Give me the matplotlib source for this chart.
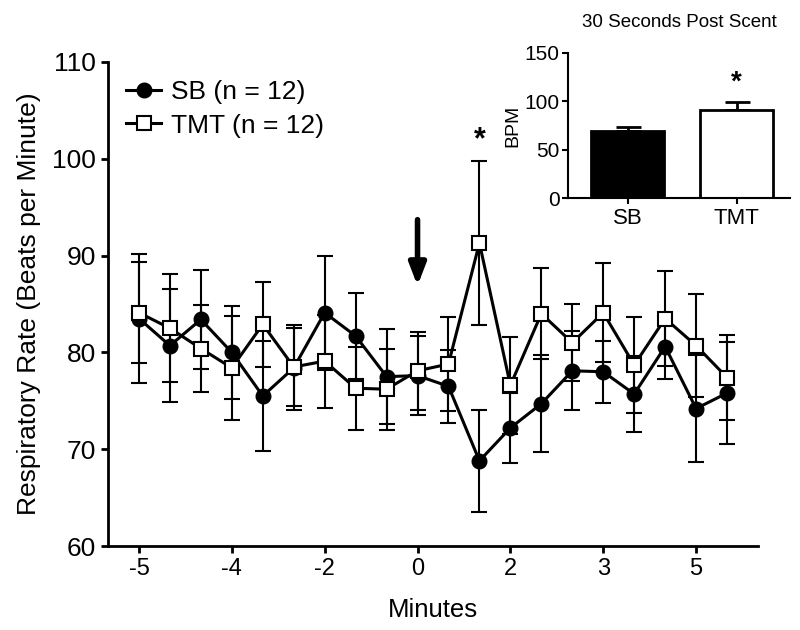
import numpy as np
import matplotlib
matplotlib.use("Agg")
import matplotlib.pyplot as plt
from matplotlib.lines import Line2D

plt.rcParams['font.family'] = ['Liberation Sans', 'DejaVu Sans']

# time points (index), x tick labels
time_idx = np.arange(20)
tick_idx = [0, 3, 6, 9, 12, 15, 18]
tick_labels = ['-5', '-4', '-2', '0', '2', '3', '5']

sb_mean = [83.5, 80.7, 83.4, 80.0, 75.5, 78.4, 84.1, 81.7, 77.5, 77.6,
           76.5, 68.8, 72.2, 74.7, 78.1, 78.0, 75.7, 80.6, 74.2, 75.8]
sb_sem = [6.7, 5.8, 5.1, 4.8, 5.7, 4.4, 5.9, 4.4, 4.9, 4.1,
          3.8, 5.3, 3.6, 5.0, 4.1, 3.2, 3.9, 3.3, 5.5, 5.3]
tmt_mean = [84.1, 82.5, 80.4, 78.4, 82.9, 78.5, 79.1, 76.3, 76.2, 78.1,
            78.8, 91.3, 76.6, 84.0, 81.0, 84.1, 78.7, 83.5, 80.7, 77.4]
tmt_sem = [5.2, 5.6, 4.5, 5.4, 4.4, 4.0, 4.8, 4.3, 4.2, 4.0,
           4.9, 8.5, 5.0, 4.7, 4.0, 5.1, 5.0, 4.9, 5.3, 4.4]

# inset: 30 s post scent
bar_groups = ['SB', 'TMT']
bar_mean = [68.9, 91.3]
bar_sem = [4.9, 8.0]

fig = plt.figure(figsize=(8, 6.3), dpi=100)
ax = fig.add_axes([0.135, 0.1333, 0.8125, 0.7683])

ax.errorbar(time_idx, sb_mean, yerr=sb_sem, color='black', lw=2.2,
            marker='o', ms=10.5, mfc='black', mec='black',
            ecolor='black', elinewidth=1.5, capsize=6, capthick=1.5, zorder=2)
ax.errorbar(time_idx, tmt_mean, yerr=tmt_sem, color='black', lw=2.2,
            marker='s', ms=10.5, mfc='white', mec='black', mew=1.5,
            ecolor='black', elinewidth=1.5, capsize=6, capthick=1.5, zorder=3)

ax.set_xlim(-1, 20)
ax.set_ylim(60, 110)
ax.set_yticks(np.arange(60, 111, 10))
ax.set_xticks(tick_idx)
ax.set_xticklabels(tick_labels)
ax.tick_params(axis='y', labelsize=19, width=2, length=5)
ax.tick_params(axis='x', labelsize=17, width=2, length=5)
for s in ['top', 'right']:
    ax.spines[s].set_visible(False)
for s in ['left', 'bottom']:
    ax.spines[s].set_linewidth(2)

ax.set_ylabel('Respiratory Rate (Beats per Minute)', fontsize=19, labelpad=8)
ax.set_xlabel('Minutes', fontsize=18.5, labelpad=13)

# scent onset arrow and significance mark
ax.annotate('', xy=(9, 86.6), xytext=(9, 94.0),
            arrowprops=dict(arrowstyle='-|>,head_width=0.5,head_length=1.3',
                            color='black', lw=4))
ax.text(11, 101.9, '*', ha='center', va='center', fontsize=22, fontweight='bold')

handles = [Line2D([], [], color='black', lw=2.2, marker='o', ms=10.5,
                  mfc='black', mec='black'),
           Line2D([], [], color='black', lw=2.2, marker='s', ms=10.5,
                  mfc='white', mec='black', mew=1.5)]
ax.legend(handles, ['SB (n = 12)', 'TMT (n = 12)'], loc='upper left',
          bbox_to_anchor=(0.0, 1.0), frameon=False, fontsize=19,
          handlelength=1.3, handletextpad=0.4, labelspacing=0.35,
          borderaxespad=0.3)

# inset bar chart
axi = fig.add_axes([0.71, 0.6857, 0.2775, 0.2302])
axi.bar(range(2), bar_mean, width=0.67, color=['black', 'white'],
        edgecolor='black', linewidth=2, zorder=2)
axi.errorbar(range(2), bar_mean, yerr=[[0, 0], bar_sem], fmt='none',
             ecolor='black', elinewidth=2, capsize=9, capthick=2, zorder=1)
axi.set_xlim(-0.55, 1.49)
axi.set_ylim(0, 150)
axi.set_yticks([0, 50, 100, 150])
axi.set_xticks(range(2))
axi.set_xticklabels(bar_groups)
axi.tick_params(axis='y', labelsize=15, width=1.5, length=4, pad=2)
axi.tick_params(axis='x', labelsize=16, width=1.5, length=4)
for s in ['top', 'right']:
    axi.spines[s].set_visible(False)
for s in ['left', 'bottom']:
    axi.spines[s].set_linewidth(1.5)
axi.set_ylabel('BPM', fontsize=14, labelpad=2)
axi.set_title('30 Seconds Post Scent', fontsize=13.5, pad=19)
axi.text(1, 119, '*', ha='center', va='center', fontsize=20, fontweight='bold')

fig.savefig('out.png', dpi=100)
